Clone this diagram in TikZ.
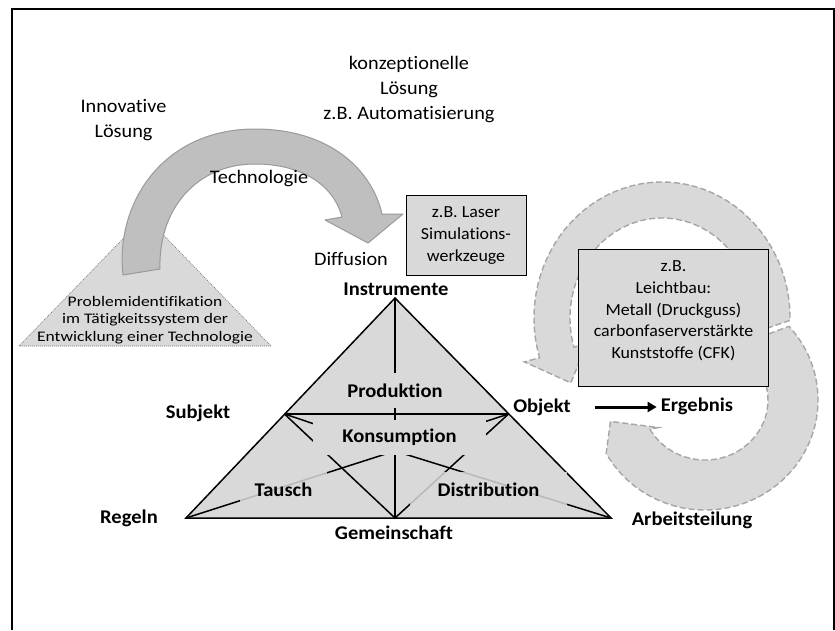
\documentclass[tikz,border=0pt]{standalone}
\usepackage{fontspec}
\setmainfont{Carlito}[FakeStretch=1.06, Ligatures=NoCommon]
\newfontfamily\probfont{Carlito}[FakeStretch=1.2, Ligatures=NoCommon]
\usetikzlibrary{arrows.meta}
\definecolor{trifill}{HTML}{D9D9D9}
\definecolor{arrowfill}{HTML}{BFBFBF}
\definecolor{arrowline}{HTML}{9A9A9A}
\definecolor{dashline}{HTML}{A6A6A6}
\definecolor{dotline}{HTML}{707070}
\begin{document}
\begin{tikzpicture}[x=1pt,y=-1pt,
  reg/.style={font=\fontsize{19.1}{25}\selectfont, align=center, inner sep=0pt},
  bld/.style={font=\fontsize{19.4}{22}\selectfont\bfseries, inner sep=0pt},
  boxtext/.style={font=\fontsize{16.9}{21.7}\selectfont, align=center, inner sep=0pt},
  probtext/.style={font=\probfont\fontsize{14.6}{17.5}\selectfont, align=center, inner sep=0pt},
  greybox/.style={draw=black, line width=0.9pt, fill=trifill},
  tline/.style={line width=1.5pt, draw=black},
  inlbl/.style={font=\fontsize{19.4}{22}\selectfont\bfseries, fill=trifill, inner sep=0pt, minimum height=35pt},
  cyc/.style={fill=trifill, draw=dashline, line width=1.4pt, dash pattern=on 6pt off 3pt},
  bigarrow/.style={fill=arrowfill, draw=arrowline, line width=1pt, line join=round},
  probtri/.style={fill=trifill, draw=dotline, line width=0.7pt, dash pattern=on 0.8pt off 1.2pt}
]
\useasboundingbox (0,0) rectangle (835,630);
\fill[white] (0,0) rectangle (835,630);
% frame
\draw[line width=2pt] (12,630) -- (12,9) -- (835,9);
\draw[line width=2pt] (834,9) -- (834,630);

% problem triangle
\path[probtri] (145,216) -- (19,346) -- (271,346) -- cycle;
\node[probtext] (prob) at (145,320) {Problemidentifikation\\im Tätigkeitssystem der\\Entwicklung einer Technologie};

% big curved arrow
\path[bigarrow] (123,275) .. controls (115,203) and (163,129) .. (255,129)
  .. controls (330,129) and (372,170) .. (382,214) -- (403,214) -- (368,243) -- (325,220) -- (342,217)
  .. controls (334,186) and (303,164) .. (255,164)
  .. controls (196,164) and (158,210) .. (160,269) -- cycle;

\node[reg] (innov) at (123.5,120) {Innovative\\Lösung};
\node[reg] (konz) at (409,90) {konzeptionelle\\Lösung\\z.B. Automatisierung};
\node[reg] (techn) at (259,179) {Technologie};
\node[reg] (diff) at (351,259) {Diffusion};
\node[greybox, boxtext, minimum width=120pt, minimum height=80pt] (laser) at (466,235.5) {z.B. Laser\\Simulations-\\werkzeuge};

% cycle arrows
\path[cyc] (750,334) -- ([shift={(1:128 and 136)}]662,318) arc[start angle=1, end angle=-197, x radius=128, y radius=136]
  -- ([shift={(-197:144 and 150)}]662,318) -- ([shift={(-214:110 and 116)}]662,318)
  -- ([shift={(-197:78 and 84)}]662,318) -- ([shift={(-197:92 and 100)}]662,318)
  arc[start angle=-197, end angle=3, x radius=92, y radius=100] -- cycle;
\path[cyc] (752,340) -- ([shift={(-42:113 and 110)}]705,400) arc[start angle=-42, end angle=151, x radius=113, y radius=110]
  -- ([shift={(167:97 and 95)}]705,400) -- ([shift={(148:55 and 52)}]705,400)
  -- ([shift={(151:63 and 60)}]705,400)
  arc[start angle=151, end angle=-41, x radius=63, y radius=60] -- cycle;
\node[greybox, minimum width=190pt, minimum height=137pt] (bigbox) at (673.8,318.3) {};
\node[boxtext] (bigtxt) at (673.5,311) {z.B.\\Leichtbau:\\Metall (Druckguss)\\carbonfaserverstärkte\\Kunststoffe (CFK)};

% activity triangle
\coordinate (A) at (395,298);
\coordinate (R) at (186,518);
\coordinate (Ar) at (611,518);
\coordinate (G) at (395,518);
\coordinate (S) at (284.5,414);
\coordinate (O) at (508.5,414);
\coordinate (K) at (395,451);
\fill[trifill] (A) -- (R) -- (Ar) -- cycle;
\draw[tline] (A) -- (G);
\draw[tline] (S) -- (O);
\draw[tline] (S) -- (G);
\draw[tline] (O) -- (G);
\draw[tline] (R) -- (K);
\draw[tline] (Ar) -- (K);
\draw[tline] (S) -- (K);
\draw[tline] (O) -- (K);
\draw[tline, line join=miter] (A) -- (R) -- (Ar) -- cycle;

\node[inlbl, minimum width=110pt] (prod) at (395,390.5) {Produktion};
\node[inlbl, minimum width=173pt] (kons) at (399.5,437.5) {Konsumption};
\node[inlbl, minimum width=87pt, fill opacity=0.85, text opacity=1] (tausch) at (283.5,489.5) {Tausch};
\node[inlbl, minimum width=157pt, fill opacity=0.85, text opacity=1] (distr) at (488.5,489.5) {Distribution};

\node[bld] (instr) at (396,289) {Instrumente};
\node[bld] (subj) at (198,413) {Subjekt};
\node[bld] (obj) at (542,407) {Objekt};
\node[bld] (erg) at (697,406) {Ergebnis};
\node[bld] (regeln) at (129,518) {Regeln};
\node[bld] (gem) at (394,533) {Gemeinschaft};
\node[bld] (arb) at (692,520) {Arbeitsteilung};
\draw[line width=3pt, -{Triangle[length=9pt,width=10pt]}, shorten <=24pt, shorten >=4pt]
  (obj.east) -- (erg.west |- obj.east);
\end{tikzpicture}
\end{document}
